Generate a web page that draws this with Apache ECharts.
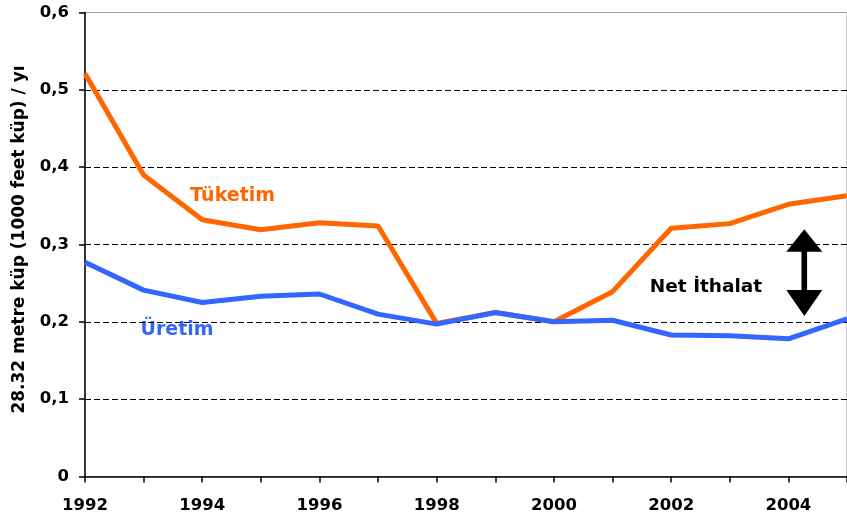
<!DOCTYPE html>
<html>
<head>
<meta charset="utf-8">
<script src="https://cdn.jsdelivr.net/npm/echarts@6/dist/echarts.min.js"></script>
<style>
html,body{margin:0;padding:0;background:#fff;}
#c{width:847px;height:518px;}
</style>
</head>
<body>
<div id="c"></div>
<script>
var years = ['1992','1993','1994','1995','1996','1997','1998','1999','2000','2001','2002','2003','2004','2005'];
var tuketim = [0.521, 0.390, 0.332, 0.319, 0.328, 0.324, 0.198, 0.212, 0.200, 0.239, 0.321, 0.327, 0.352, 0.363];
var uretim  = [0.277, 0.241, 0.225, 0.233, 0.236, 0.210, 0.197, 0.212, 0.200, 0.202, 0.183, 0.182, 0.178, 0.204];
var yTitle = '28.32 metre küp (1000 feet küp) / yı';
var labelTuketim = 'Tüketim';
var labelUretim = 'Üretim';
var labelNet = 'Net İthalat';

var FONT = 'DejaVu Sans';
var chart = echarts.init(document.getElementById('c'), null, {renderer:'canvas'});
chart.setOption({
  animation: false,
  backgroundColor: '#fff',
  grid: {left: 85, top: 12.5, bottom: 41.5, right: -4.2, show: true, borderColor: '#a0a0a0', borderWidth: 1},
  xAxis: {
    type: 'category', data: years, boundaryGap: false,
    axisLine: {lineStyle: {color: '#000', width: 1.5}},
    axisTick: {interval: 0, length: 6, lineStyle: {color: '#000', width: 1.5}},
    axisLabel: {interval: 1, margin: 21, color: '#000', fontFamily: FONT, fontWeight: 'bold', fontSize: 16.5},
    splitLine: {show: false}
  },
  yAxis: {
    type: 'value', min: 0, max: 0.6, interval: 0.1,
    axisLine: {show: true, lineStyle: {color: '#000', width: 1.5}},
    axisTick: {show: true, length: 6, lineStyle: {color: '#000', width: 1.5}},
    axisLabel: {margin: 16, color: '#000', fontFamily: FONT, fontWeight: 'bold', fontSize: 16.5,
      formatter: function(v){ return (Math.round(v*10)/10).toString().replace('.', ','); }},
    splitLine: {show: true, showMinLine: false, showMaxLine: false, lineStyle: {color: '#000', type: [6,3], width: 1}}
  },
  series: [
    {name: labelTuketim, type: 'line', data: tuketim, symbol: 'none', zlevel: 0,
      lineStyle: {color: '#FF6600', width: 5}},
    {name: labelUretim, type: 'line', data: uretim, symbol: 'none', zlevel: 1,
      lineStyle: {color: '#3366FF', width: 5}}
  ],
  graphic: [
    {type: 'text', x: 20, y: 239.5, rotation: Math.PI/2,
      style: {text: yTitle, fill: '#000', font: 'bold 17px ' + FONT, align: 'center', verticalAlign: 'middle'}},
    {type: 'text', x: 232.5, y: 196,
      style: {text: labelTuketim, fill: '#FF6600', font: 'bold 19px ' + FONT, align: 'center', verticalAlign: 'middle'}},
    {type: 'text', x: 177, y: 330,
      style: {text: labelUretim, fill: '#3366FF', font: 'bold 19px ' + FONT, align: 'center', verticalAlign: 'middle'}},
    {type: 'text', x: 706, y: 287,
      style: {text: labelNet, fill: '#000', font: 'bold 18.5px ' + FONT, align: 'center', verticalAlign: 'middle'}},
    {type: 'polygon', z: 10,
      shape: {points: [
        [804.3,229.3],[822.3,251.7],[807.1,251.7],[807.1,290],[822.3,290],[804.3,316],
        [786.3,290],[801.5,290],[801.5,251.7],[786.3,251.7]
      ]},
      style: {fill: '#000'}}
  ]
});
</script>
</body>
</html>
